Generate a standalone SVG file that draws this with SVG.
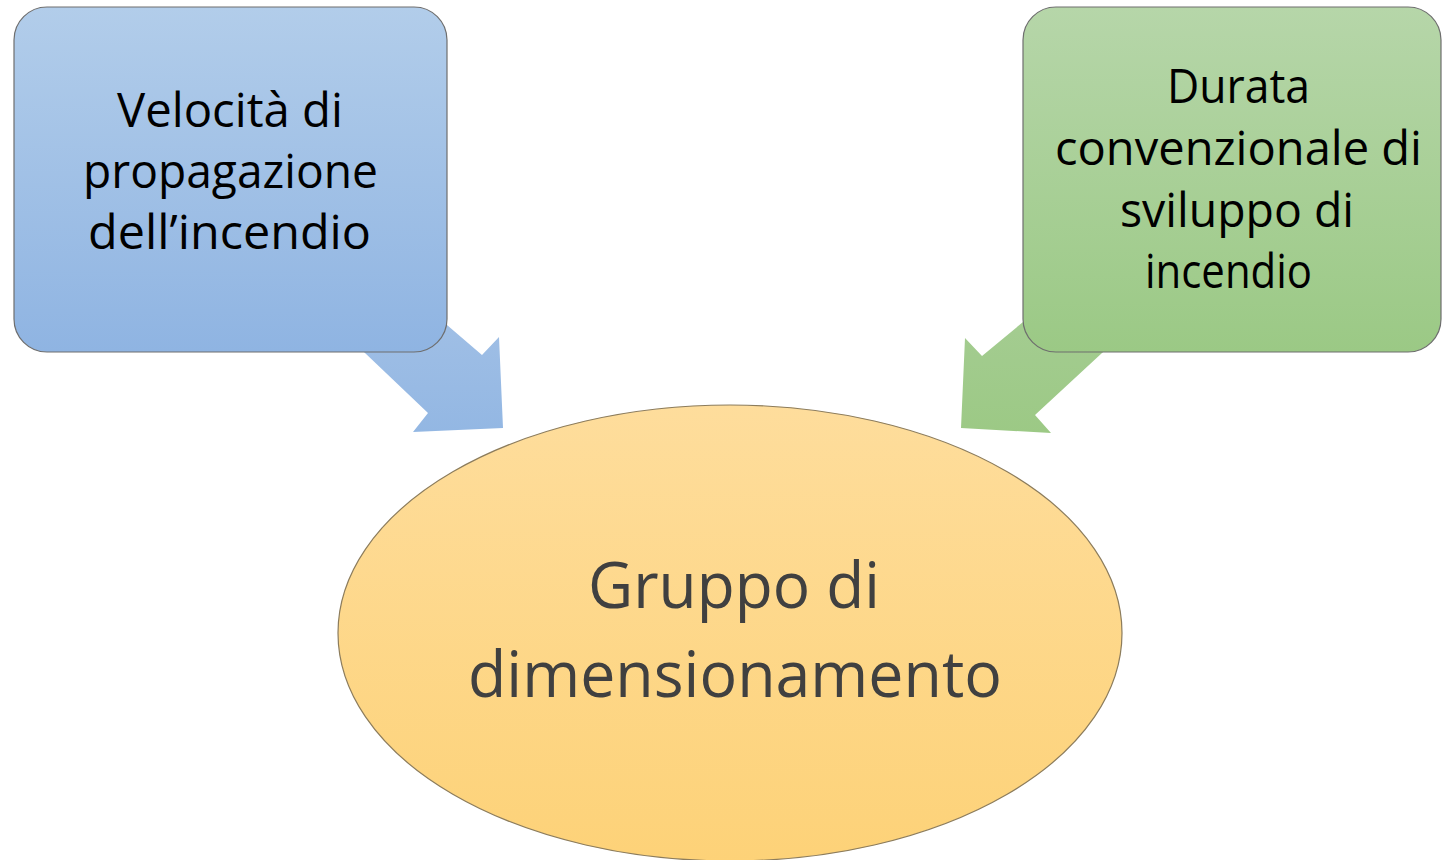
<svg xmlns="http://www.w3.org/2000/svg" width="1442" height="860" viewBox="0 0 1442 860">
  <defs>
    <linearGradient id="gBlue" x1="0" y1="0" x2="0" y2="1">
      <stop offset="0" stop-color="#b2cdea"/>
      <stop offset="1" stop-color="#8fb4e2"/>
    </linearGradient>
    <linearGradient id="gGreen" x1="0" y1="0" x2="0" y2="1">
      <stop offset="0" stop-color="#b6d6a9"/>
      <stop offset="1" stop-color="#9bc985"/>
    </linearGradient>
    <linearGradient id="gOrange" x1="0" y1="0" x2="0" y2="1">
      <stop offset="0" stop-color="#fedd9c"/>
      <stop offset="1" stop-color="#fdd278"/>
    </linearGradient>
    <linearGradient id="gArrowBlue" x1="0" y1="0" x2="0" y2="1">
      <stop offset="0" stop-color="#a3c1e6"/>
      <stop offset="1" stop-color="#93b7e3"/>
    </linearGradient>
    <linearGradient id="gArrowGreen" x1="0" y1="0" x2="0" y2="1">
      <stop offset="0" stop-color="#a6cd94"/>
      <stop offset="1" stop-color="#9cc985"/>
    </linearGradient>
  </defs>
  <style>
    .box { stroke: #6e6e6e; stroke-width: 1.2; }
    .lbl { font-family: "Open Sans", "Lato", sans-serif; fill: #000000; font-size: 47px; text-anchor: start; }
    .big { font-family: "Open Sans", "Lato", sans-serif; fill: #404040; font-size: 64px; text-anchor: start; }
  </style>
  <rect width="1442" height="860" fill="#ffffff"/>

  <g id="connectors">
    <polygon id="arrow-left" fill="url(#gArrowBlue)" points="400,290 447,325 482,355 499,337 503,428 413,432 428,413 365,353 330,320"/>
    <polygon id="arrow-right" fill="url(#gArrowGreen)" points="1060,290 1023,322 982,356 965,338 961,428 1051,433 1035,415 1102,353 1130,330"/>
  </g>

  <g id="node-velocita">
    <rect class="box" x="14" y="7" width="433" height="345" rx="33" ry="33" fill="url(#gBlue)"/>
    <text class="lbl" x="117" y="127" textLength="226" lengthAdjust="spacingAndGlyphs">Velocità di</text>
    <text class="lbl" x="83" y="188" textLength="295" lengthAdjust="spacingAndGlyphs">propagazione</text>
    <text class="lbl" x="88" y="249" textLength="283" lengthAdjust="spacingAndGlyphs">dell’incendio</text>
  </g>

  <g id="node-durata">
    <rect class="box" x="1023" y="7" width="418" height="345" rx="33" ry="33" fill="url(#gGreen)"/>
    <text class="lbl" x="1167" y="103" textLength="143" lengthAdjust="spacingAndGlyphs">Durata</text>
    <text class="lbl" x="1055" y="165" textLength="367" lengthAdjust="spacingAndGlyphs">convenzionale di</text>
    <text class="lbl" x="1120" y="227" textLength="234" lengthAdjust="spacingAndGlyphs">sviluppo di</text>
    <text class="lbl" x="1145" y="288" textLength="167" lengthAdjust="spacingAndGlyphs">incendio</text>
  </g>

  <g id="node-gruppo">
    <ellipse cx="730" cy="633" rx="392" ry="228" fill="url(#gOrange)" stroke="#8c7c5c" stroke-width="1.2"/>
    <text class="big" x="588" y="608" textLength="292" lengthAdjust="spacingAndGlyphs">Gruppo di</text>
    <text class="big" x="468" y="697" textLength="534" lengthAdjust="spacingAndGlyphs">dimensionamento</text>
  </g>
</svg>
